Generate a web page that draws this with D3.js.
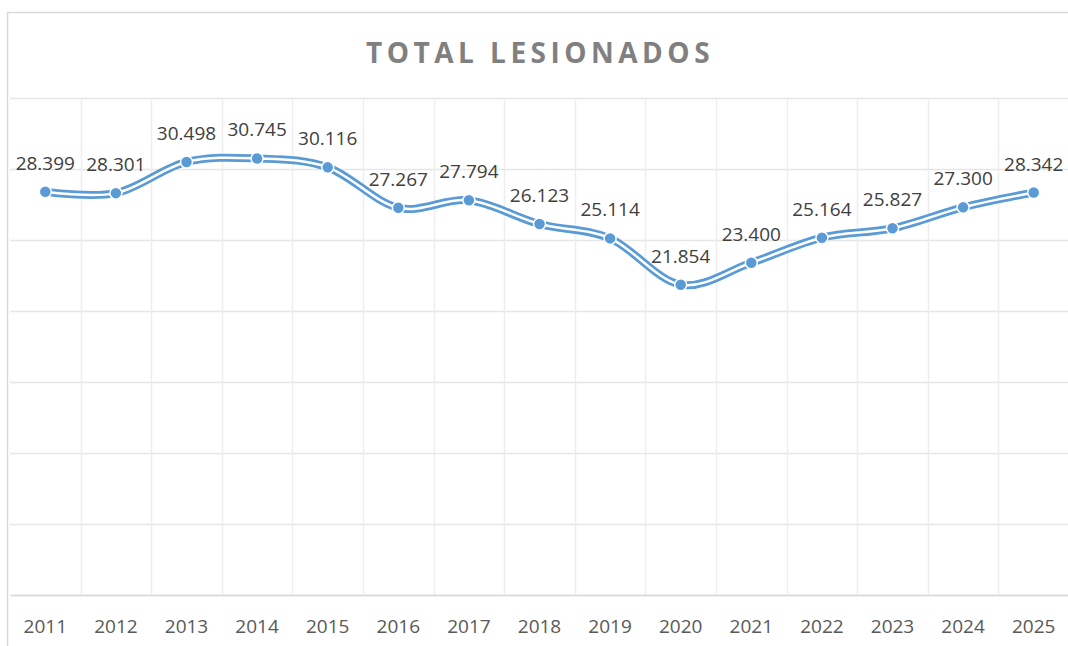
<!DOCTYPE html>
<html>
<head>
<meta charset="utf-8">
<script src="https://cdn.jsdelivr.net/npm/d3@7"></script>
<style>
  body { margin: 0; background: #fff; }
  svg { display: block; }
</style>
</head>
<body>
<div id="vis"></div>
<script>
const years = ["2011", "2012", "2013", "2014", "2015", "2016", "2017", "2018",
  "2019", "2020", "2021", "2022", "2023", "2024", "2025"];
const lesionados = [28399, 28301, 30498, 30745, 30116, 27267, 27794, 26123,
  25114, 21854, 23400, 25164, 25827, 27300, 28342];
const yTicks = [0, 5000, 10000, 15000, 20000, 25000, 30000, 35000];
const title = "TOTAL LESIONADOS";

const svgWidth = 1068,
  svgHeight = 646,
  plotLeft = 10,
  plotRight = 1069,
  plotTop = 98,
  plotBottom = 595;

const svg = d3.select("#vis").append("svg")
  .attr("width", svgWidth)
  .attr("height", svgHeight);

// chart frame (runs off the right and bottom of the picture)
svg.append("rect")
  .attr("x", 7.5).attr("y", 12.5)
  .attr("width", svgWidth + 20).attr("height", svgHeight + 20)
  .attr("fill", "none")
  .attr("stroke", "#d9d9d9")
  .attr("stroke-width", 1.5);

const x = d3.scaleBand().domain(years).range([plotLeft, plotRight]);
const y = d3.scaleLinear().domain([0, 35000]).range([plotBottom, plotTop]);

const fmt = d3.formatLocale({ decimal: ",", thousands: ".", grouping: [3], currency: ["", ""] }).format(",d");

// horizontal gridlines
svg.append("g")
  .selectAll("line")
  .data(yTicks)
  .join("line")
  .attr("x1", plotLeft).attr("x2", svgWidth)
  .attr("y1", d => Math.round(y(d)) + 0.5)
  .attr("y2", d => Math.round(y(d)) + 0.5)
  .attr("stroke", "#e6e6e6")
  .attr("stroke-width", 1.5);

// vertical gridlines between categories
svg.append("g")
  .selectAll("line")
  .data(years.slice(1))
  .join("line")
  .attr("x1", d => Math.round(x(d)) + 0.5)
  .attr("x2", d => Math.round(x(d)) + 0.5)
  .attr("y1", plotTop).attr("y2", plotBottom)
  .attr("stroke", "#eeeeee")
  .attr("stroke-width", 1.5);

// category axis
const xAxis = svg.append("g")
  .attr("transform", `translate(0,${plotBottom})`)
  .call(d3.axisBottom(x).tickSize(0).tickPadding(25));
xAxis.select(".domain").attr("stroke", "#d9d9d9").attr("stroke-width", 1.5);
xAxis.selectAll("text")
  .attr("fill", "#595959")
  .attr("font-family", "'Open Sans', sans-serif")
  .attr("font-size", 19);

// title
svg.append("text")
  .attr("x", 540)
  .attr("y", 63)
  .attr("text-anchor", "middle")
  .attr("fill", "#808080")
  .attr("font-family", "'Open Sans', sans-serif")
  .attr("font-weight", "bold")
  .attr("font-size", 28)
  .attr("letter-spacing", 4.5)
  .text(title);

const pts = years.map((yr, i) => ({ yr, v: lesionados[i] }));
const cx = d => x(d.yr) + x.bandwidth() / 2;

const line = d3.line()
  .x(cx)
  .y(d => y(d.v))
  .curve(d3.curveCardinal.tension(0));

// double (compound) line: thick blue with a thin white core
svg.append("path")
  .datum(pts)
  .attr("d", line)
  .attr("fill", "none")
  .attr("stroke", "#5b9bd5")
  .attr("stroke-width", 8)
  .attr("stroke-linecap", "round");
svg.append("path")
  .datum(pts)
  .attr("d", line)
  .attr("fill", "none")
  .attr("stroke", "#fff")
  .attr("stroke-width", 2.5);

svg.append("g")
  .selectAll("circle")
  .data(pts)
  .join("circle")
  .attr("cx", cx)
  .attr("cy", d => y(d.v))
  .attr("r", 6)
  .attr("fill", "#5b9bd5")
  .attr("stroke", "#fff")
  .attr("stroke-width", 1.5);

svg.append("g")
  .selectAll("text")
  .data(pts)
  .join("text")
  .attr("x", cx)
  .attr("y", d => y(d.v) - 22)
  .attr("text-anchor", "middle")
  .attr("fill", "#404040")
  .attr("font-family", "'Open Sans', sans-serif")
  .attr("font-size", 19)
  .text(d => fmt(d.v));
</script>
</body>
</html>
